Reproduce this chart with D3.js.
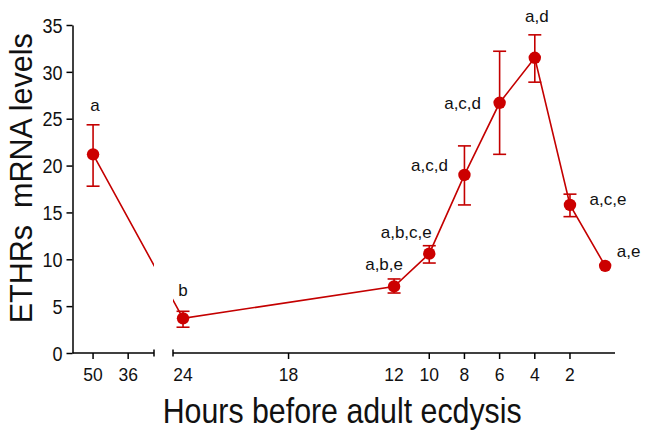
<!DOCTYPE html>
<html><head><meta charset="utf-8">
<script src="https://cdn.jsdelivr.net/npm/d3@7/dist/d3.min.js"></script>
<style>html,body{margin:0;padding:0;background:#fff;} text{font-family:"Liberation Sans",Arial,sans-serif;}</style>
</head><body>
<svg id="chart" width="649" height="438"></svg>
<script>
// ---- data ----
const hours = [50, 24, 12, 10, 8, 6, 4, 2, 0];
const meanLevels = [21.2, 3.7, 7.1, 10.6, 19.0, 26.7, 31.5, 15.8, 9.3];
const errLow = [17.8, 2.75, 6.4, 9.6, 15.8, 21.2, 28.9, 14.55, 9.3];
const errHigh = [24.35, 4.45, 7.9, 11.45, 22.1, 32.2, 33.95, 16.95, 9.3];
const sigLabels = ["a", "b", "a,b,e", "a,b,c,e", "a,c,d", "a,c,d", "a,d", "a,c,e", "a,e"];
const yTicks = [0, 5, 10, 15, 20, 25, 30, 35];
const xTickLabels = [50, 36, 24, 18, 12, 10, 8, 6, 4, 2];
const xTickMarks = [50, 36, 18, 10, 8, 6, 4, 2];
const yTitle = "ETHRs  mRNA levels";
const xTitle = "Hours before adult ecdysis";

// ---- layout (not data) ----
const labelOffsets = [[2,-43],[0,-22],[-10,-16],[-23,-15.5],[-35,-4],[-37,6],[2,-36],[38,0.5],[23.5,-9]];
const red = "#c40000";
const svg = d3.select("#chart");
const seg1 = [72.5, 154], seg2 = [173, 615];
const x = d3.scaleLinear().domain([58.2, 25.7, 24.57, -0.56]).range([seg1[0], seg1[1], seg2[0], seg2[1]]);
const y = d3.scaleLinear().domain([0, 35]).range([353, 25]);

function condense(sel, f) { sel.each(function(){ const w = this.getComputedTextLength(); d3.select(this).attr("textLength", w*f).attr("lengthAdjust","spacingAndGlyphs"); }); }

// clip for axis break
const defs = svg.append("defs");
const cp = defs.append("clipPath").attr("id","brk");
cp.append("rect").attr("x",0).attr("y",0).attr("width",seg1[1]).attr("height",438);
cp.append("rect").attr("x",seg2[0]).attr("y",0).attr("width",649-seg2[0]).attr("height",438);

// y axis
const yAxis = svg.append("g").attr("transform",`translate(${seg1[0]},0)`)
  .call(d3.axisLeft(y).tickValues(yTicks).tickSize(6).tickSizeOuter(0).tickPadding(4));
yAxis.select(".domain").attr("stroke","#000").attr("stroke-width",1.5);
yAxis.selectAll(".tick line").attr("stroke","#000").attr("stroke-width",1.5);
yAxis.selectAll(".tick text").attr("font-size",20).attr("fill","#111").attr("font-family","Liberation Sans, Arial, sans-serif").attr("dy","0.36em").call(condense,0.9);

// x axis segments
const xa = svg.append("g").attr("stroke","#000").attr("stroke-width",1.5);
[seg1, seg2].forEach(s => xa.append("line").attr("x1",s[0]).attr("x2",s[1]).attr("y1",y(0)).attr("y2",y(0)));
xa.append("line").attr("x1",seg1[1]).attr("x2",seg1[1]).attr("y1",y(0)-3.5).attr("y2",y(0)+3.5);
xa.append("line").attr("x1",seg2[0]).attr("x2",seg2[0]).attr("y1",y(0)-3.5).attr("y2",y(0)+3.5);
xa.selectAll(".xt").data(xTickMarks).join("line").attr("class","xt")
  .attr("x1",d=>x(d)).attr("x2",d=>x(d)).attr("y1",y(0)).attr("y2",y(0)+6);
svg.append("g").selectAll("text").data(xTickLabels).join("text")
  .attr("x",d=>x(d)).attr("y",380.5).attr("text-anchor","middle").attr("font-size",19).attr("fill","#111")
  .text(d=>d).call(condense,0.92);

// titles
svg.append("text").attr("transform","translate(31.5,178.3) rotate(-90)").attr("text-anchor","middle")
  .style("white-space","pre")
  .attr("font-size",32).attr("fill","#111").text(yTitle).attr("textLength",290).attr("lengthAdjust","spacingAndGlyphs");
svg.append("text").attr("x",342.2).attr("y",423).attr("text-anchor","middle")
  .attr("font-size",35).attr("fill","#111").text(xTitle).attr("textLength",359).attr("lengthAdjust","spacingAndGlyphs");

// data
const pts = hours.map((h,i)=>({h, v:meanLevels[i], lo:errLow[i], hi:errHigh[i], lab:sigLabels[i], off:labelOffsets[i]}));
svg.append("path").datum(pts).attr("clip-path","url(#brk)")
  .attr("fill","none").attr("stroke",red).attr("stroke-width",1.6)
  .attr("d", d3.line().x(d=>x(d.h)).y(d=>y(d.v)));
const eb = svg.append("g").attr("stroke",red).attr("stroke-width",1.6);
pts.filter(d=>d.hi-d.lo>0.01).forEach(d=>{
  const cx = x(d.h);
  eb.append("line").attr("x1",cx).attr("x2",cx).attr("y1",y(d.lo)).attr("y2",y(d.hi));
  eb.append("line").attr("x1",cx-6.5).attr("x2",cx+6.5).attr("y1",y(d.lo)).attr("y2",y(d.lo));
  eb.append("line").attr("x1",cx-6.5).attr("x2",cx+6.5).attr("y1",y(d.hi)).attr("y2",y(d.hi));
});
svg.append("g").selectAll("circle").data(pts).join("circle")
  .attr("cx",d=>x(d.h)).attr("cy",d=>y(d.v)).attr("r",6.2).attr("fill","#cc0000");
svg.append("g").selectAll("text").data(pts).join("text")
  .attr("x",d=>x(d.h)+d.off[0]).attr("y",d=>y(d.v)+d.off[1]).attr("text-anchor","middle")
  .attr("font-size",17).attr("fill","#111").text(d=>d.lab);
</script>
</body></html>
